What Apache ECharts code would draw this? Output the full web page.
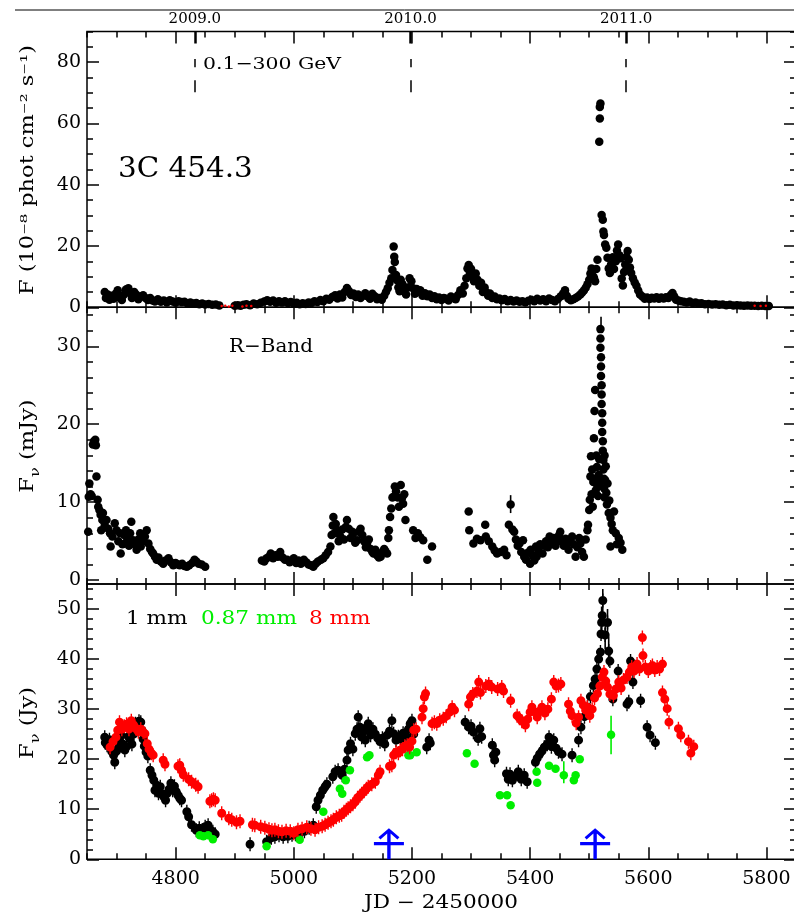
<!DOCTYPE html>
<html>
<head>
<meta charset="utf-8">
<script src="https://cdn.jsdelivr.net/npm/echarts@6/dist/echarts.min.js"></script>
<style>
  html, body { margin: 0; padding: 0; background: #fff; }
  #chart { width: 794px; height: 914px; }
</style>
</head>
<body>
<div id="chart"></div>
<script>
// Fermi-LAT 0.1-300 GeV flux (JD-2450000, 1e-8 ph cm-2 s-1)
const gammaFlux = [
  [4680,5.0],[4682,3.0],[4685,4.2],[4688,2.5],[4692,3.8],[4695,2.8],[4699,4.5],[4702,5.6],[4705,3.2],[4709,2.4],
  [4712,4.0],[4716,5.8],[4720,6.2],[4723,4.6],[4726,3.0],[4730,5.0],[4733,4.2],[4737,2.6],[4741,3.5],[4745,3.9],
  [4749,3.0],[4753,2.4],[4757,3.0],[4761,2.2],[4765,1.9],[4770,2.6],[4775,1.8],[4780,2.2],[4785,1.6],[4790,2.3],
  [4795,1.9],[4800,1.5],[4805,2.0],[4810,1.7],[4815,1.8],[4820,1.3],[4825,1.6],[4830,1.2],[4835,1.4],[4840,1.0],
  [4845,1.2],[4850,0.9],[4856,1.1],[4862,0.8],[4868,0.9],[4874,0.6],[4900,0.5],[4905,0.7],[4910,0.5],[4915,0.8],
  [4920,1.0],[4926,0.7],[4932,1.2],[4938,1.0],[4944,1.5],[4950,1.9],[4955,2.3],[4960,1.8],[4965,2.2],[4970,1.5],
  [4975,2.0],[4980,1.6],[4985,2.0],[4990,1.4],[4995,1.7],[5000,1.2],[5005,1.5],[5010,1.0],[5015,1.3],[5020,1.1],
  [5025,1.6],[5030,1.4],[5035,2.0],[5040,1.7],[5045,2.4],[5050,2.0],[5055,2.8],[5060,2.5],[5065,3.4],[5070,3.9],
  [5074,2.9],[5078,4.2],[5082,3.2],[5086,5.0],[5090,6.3],[5093,5.4],[5097,4.0],[5101,4.5],[5105,3.4],[5109,4.2],
  [5113,3.0],[5117,3.8],[5121,4.6],[5125,3.6],[5129,2.8],[5133,4.4],[5137,3.6],[5141,2.6],[5145,3.0],[5149,2.5],
  [5153,3.8],[5156,5.0],[5159,6.2],[5162,8.0],[5165,9.5],[5167,12.2],[5169,19.8],[5170,16.5],[5171,14.8],[5173,10.5],
  [5175,8.8],[5177,6.5],[5179,5.2],[5181,9.0],[5184,7.5],[5187,5.5],[5190,4.2],[5193,6.5],[5196,9.5],[5199,8.5],
  [5202,6.2],[5205,4.4],[5208,6.0],[5211,5.0],[5214,5.6],[5218,3.8],[5222,4.6],[5226,3.6],[5230,4.2],[5234,3.0],
  [5238,3.6],[5242,2.6],[5246,3.2],[5250,2.4],[5254,3.0],[5258,2.8],[5262,2.2],[5266,3.5],[5270,3.0],[5274,2.6],
  [5278,4.0],[5282,5.6],[5286,4.5],[5289,7.0],[5292,9.5],[5294,12.7],[5296,13.8],[5298,11.2],[5300,12.6],[5302,10.0],
  [5305,8.5],[5308,11.0],[5311,9.0],[5314,7.0],[5317,8.0],[5320,5.0],[5323,6.5],[5326,4.8],[5329,3.8],[5332,4.5],
  [5336,3.0],[5340,3.5],[5344,2.6],[5348,2.9],[5352,2.3],[5357,2.7],[5362,2.0],[5367,2.4],[5372,1.9],[5377,2.2],
  [5382,1.8],[5387,2.0],[5392,1.6],[5397,2.1],[5402,2.5],[5407,2.0],[5412,2.8],[5417,2.2],[5422,2.6],[5427,2.0],
  [5432,2.9],[5437,2.4],[5442,2.0],[5447,2.7],[5452,3.6],[5456,4.5],[5459,5.6],[5462,3.8],[5465,2.8],[5469,2.3],
  [5473,2.6],[5477,3.0],[5481,3.5],[5485,4.2],[5488,4.8],[5491,5.5],[5494,6.4],[5497,7.5],[5500,9.0],[5502,11.0],
  [5504,12.7],[5506,10.2],[5508,9.7],[5510,8.5],[5512,12.5],[5514,15.5],[5517,54.0],[5518,61.6],[5518,65.4],[5519,66.5],
  [5521,30.1],[5523,28.6],[5524,24.7],[5525,23.6],[5527,20.5],[5529,19.4],[5531,16.2],[5533,12.7],[5535,11.2],[5537,14.0],
  [5540,16.3],[5542,12.5],[5545,15.0],[5547,18.5],[5549,20.5],[5551,17.0],[5553,16.0],[5555,9.4],[5557,7.1],[5559,11.5],
  [5561,14.0],[5563,16.5],[5565,18.4],[5567,15.5],[5569,13.0],[5571,11.2],[5574,9.5],[5577,8.1],[5580,7.0],[5583,5.5],
  [5586,4.2],[5590,3.5],[5594,2.8],[5598,3.2],[5602,2.7],[5606,3.1],[5610,2.9],[5614,3.3],[5618,2.8],[5622,3.2],
  [5626,2.9],[5630,3.3],[5634,3.0],[5638,4.0],[5641,4.7],[5644,3.5],[5647,2.5],[5651,2.2],[5655,2.0],[5660,1.8],
  [5665,1.6],[5670,1.9],[5675,1.4],[5680,1.6],[5685,1.2],[5690,1.3],[5696,1.0],[5702,1.1],[5708,0.9],[5714,1.0],
  [5720,0.8],[5726,0.9],[5732,0.7],[5738,0.8],[5744,0.6],[5750,0.7],[5756,0.6],[5762,0.5],[5768,0.6],[5774,0.5],
  [5780,0.5],[5786,0.4],[5792,0.5],[5798,0.4],[5804,0.4]
];
// small red markers near zero in the gamma panel
const gammaRed = [[4878,0.4],[4884,0.5],[4890,0.3],[4896,0.5],[4913,0.3],[4920,0.5],[4928,0.4],[5780,0.5],[5790,0.4],[5799,0.5]];

// R-band flux density (mJy)
const rBand = [
  [4652,6.2],[4653,10.7],[4654,12.4],[4656,11.0],[4658,10.8],[4660,17.4],[4662,17.8],[4664,18.0],[4665,17.3],[4666,13.3],
  [4668,10.3],[4669,9.4],[4671,9.0],[4673,8.4],[4674,6.4],[4676,7.7],[4677,8.6],[4680,7.0],[4683,7.7],[4686,6.6],
  [4689,6.0],[4690,4.3],[4693,5.6],[4697,7.3],[4700,6.4],[4703,5.0],[4706,6.0],[4707,3.4],[4710,4.6],[4713,5.8],
  [4716,6.4],[4718,5.1],[4721,4.4],[4723,6.0],[4725,7.5],[4728,5.1],[4731,4.6],[4734,3.9],[4737,5.2],[4740,6.0],
  [4741,4.3],[4744,5.0],[4748,5.6],[4751,6.4],[4754,4.7],[4757,4.0],[4760,3.6],[4762,3.4],[4765,3.0],[4768,2.6],
  [4771,2.9],[4775,2.4],[4779,2.1],[4783,2.5],[4788,2.8],[4792,2.3],[4796,1.9],[4800,2.2],[4804,2.0],[4807,1.9],
  [4811,2.1],[4815,1.8],[4819,1.7],[4823,1.9],[4828,2.2],[4832,2.6],[4835,2.4],[4839,2.1],[4844,2.0],[4850,1.7],
  [4946,2.5],[4950,2.4],[4954,2.8],[4958,3.0],[4961,3.4],[4965,2.8],[4969,3.2],[4973,3.0],[4977,3.6],[4981,2.9],
  [4985,2.6],[4989,2.6],[4993,2.3],[4997,2.5],[5000,2.8],[5004,2.2],[5008,2.5],[5012,2.1],[5017,2.6],[5021,2.3],
  [5025,2.0],[5029,1.9],[5033,1.7],[5037,2.1],[5041,2.4],[5046,2.6],[5050,2.8],[5054,3.2],[5058,3.6],[5062,4.3],
  [5064,5.8],[5066,7.0],[5067,8.1],[5069,6.0],[5071,7.2],[5073,6.4],[5076,5.0],[5079,5.6],[5082,6.5],[5085,5.2],
  [5088,6.8],[5090,7.7],[5093,6.6],[5096,5.4],[5099,6.2],[5101,6.0],[5104,4.8],[5107,5.1],[5110,6.2],[5113,6.6],
  [5116,5.8],[5119,5.0],[5122,4.2],[5124,4.7],[5127,5.2],[5130,4.0],[5133,3.6],[5135,3.4],[5138,3.9],[5141,3.2],
  [5144,2.9],[5147,3.0],[5150,3.6],[5153,4.0],[5155,3.7],[5158,3.4],[5160,5.4],[5161,6.4],[5163,8.1],[5165,9.2],
  [5167,10.6],[5169,10.7],[5171,12.0],[5173,11.4],[5176,10.6],[5178,9.4],[5181,12.2],[5183,10.5],[5185,9.8],[5187,11.0],
  [5189,7.7],[5202,6.4],[5206,5.4],[5210,6.0],[5214,5.5],[5219,5.1],[5226,2.6],[5234,4.3],
  [5296,8.8],[5297,6.4],[5304,4.7],[5310,5.3],[5316,5.1],[5324,7.1],[5325,5.6],[5330,5.0],[5336,4.3],[5340,3.8],
  [5344,3.4],[5350,3.6],[5356,3.9],[5360,3.2],[5364,7.1],[5367,9.7],[5370,6.5],[5373,6.2],[5376,5.2],[5379,4.4],
  [5382,4.7],[5385,3.6],[5388,5.1],[5390,3.0],[5393,2.6],[5396,3.5],[5400,2.1],[5401,3.9],[5404,3.2],[5407,2.5],
  [5410,4.3],[5411,3.0],[5414,3.8],[5417,4.6],[5421,3.4],[5424,4.4],[5427,5.0],[5430,4.2],[5433,5.6],[5436,4.8],
  [5440,5.4],[5443,4.4],[5446,5.0],[5449,5.8],[5451,6.2],[5454,5.0],[5457,4.4],[5460,5.3],[5462,4.7],[5465,3.9],
  [5468,5.0],[5471,5.6],[5474,4.6],[5477,3.0],[5480,4.2],[5483,5.4],[5485,4.7],[5488,3.6],[5491,3.0],[5494,5.2],
  [5497,6.4],[5498,7.1],[5500,9.0],[5501,10.3],[5502,13.3],[5503,15.9],[5504,11.0],[5505,14.2],[5506,9.4],[5507,12.6],
  [5508,18.2],[5509,21.7],[5509,13.0],[5510,24.4],[5511,11.5],[5512,16.0],[5513,14.5],[5514,12.0],[5515,10.8],[5516,13.5],
  [5517,15.5],[5518,12.5],[5519,32.2],[5519,31.0],[5519,29.8],[5520,28.6],[5520,27.4],[5520,26.2],[5521,25.0],[5521,23.8],
  [5521,22.6],[5522,21.4],[5522,20.2],[5522,19.0],[5523,17.8],[5523,16.6],[5524,15.4],[5524,14.2],[5525,13.0],[5525,11.8],
  [5526,10.6],[5526,16.0],[5527,12.8],[5528,14.6],[5529,11.2],[5530,9.7],[5531,12.4],[5533,8.6],[5534,10.2],[5536,8.0],
  [5536,4.3],[5538,7.2],[5540,6.4],[5542,8.8],[5545,6.0],[5547,4.6],[5550,5.4],[5553,4.8],[5556,3.9]
];
const rBandErr = [[5367,8.6,10.9],[5520,32.2,33.8]];

// 1 mm flux density (Jy)
const mm1 = [
  [4680,24.4],[4681,23.3],[4684,22.8],[4688,23.9],[4692,21.5],[4695,20.8],[4697,19.4],[4700,21.6],[4703,22.2],[4706,23.5],
  [4708,24.8],[4711,23.0],[4714,21.8],[4717,22.5],[4720,24.5],[4723,24.0],[4726,23.0],[4729,25.0],[4732,27.1],[4735,26.2],
  [4738,27.6],[4741,27.4],[4743,25.8],[4745,24.0],[4747,22.6],[4750,21.4],[4753,20.6],[4757,17.8],[4760,16.8],[4763,15.8],
  [4765,13.8],[4768,14.8],[4771,13.2],[4774,14.5],[4777,13.0],[4780,12.5],[4783,11.8],[4786,13.2],[4789,14.0],[4792,15.2],
  [4795,13.8],[4798,14.6],[4801,13.5],[4804,12.8],[4807,12.2],[4810,11.8],[4819,9.5],[4822,8.5],[4827,6.9],[4835,5.8],
  [4840,6.2],[4845,5.8],[4850,6.5],[4855,6.8],[4859,5.8],[4863,5.5],[4867,5.0],[4926,3.0],[4954,3.5],[4962,4.3],
  [4968,4.5],[4975,4.8],[4982,4.5],[4990,4.6],[4997,4.9],[5003,5.0],[5010,5.2],[5018,5.6],[5026,6.3],[5033,6.8],
  [5038,10.5],[5041,11.8],[5045,12.8],[5049,13.8],[5053,14.5],[5056,15.0],[5066,16.5],[5070,17.5],[5075,17.8],[5082,16.8],
  [5086,18.0],[5090,19.8],[5092,21.8],[5096,23.1],[5100,22.0],[5104,25.1],[5107,26.0],[5109,28.4],[5112,26.4],[5115,24.4],
  [5118,25.6],[5121,23.8],[5124,26.2],[5126,27.1],[5130,24.8],[5134,26.0],[5138,25.0],[5142,24.2],[5146,23.5],[5150,24.2],
  [5154,23.0],[5158,24.8],[5162,25.6],[5166,27.7],[5169,25.1],[5173,23.8],[5177,24.5],[5181,24.0],[5185,25.2],[5190,24.6],
  [5194,26.0],[5197,27.1],[5200,27.7],[5203,25.0],[5225,22.4],[5229,23.8],[5231,23.2],[5290,27.4],[5296,26.4],[5300,26.6],
  [5304,25.4],[5312,24.1],[5315,26.1],[5318,24.5],[5336,22.8],[5338,20.8],[5340,19.8],[5342,21.4],[5360,17.1],[5363,16.0],
  [5366,17.0],[5370,15.8],[5375,16.6],[5380,17.5],[5385,16.0],[5390,16.8],[5395,15.5],[5409,19.4],[5412,20.2],[5416,21.0],
  [5420,21.6],[5424,22.4],[5429,23.0],[5432,24.4],[5436,22.5],[5440,23.8],[5444,22.2],[5448,21.5],[5454,21.0],[5471,20.8],
  [5482,23.8],[5486,26.4],[5492,28.5],[5497,30.4],[5502,32.5],[5507,34.7],[5510,36.0],[5513,38.0],[5516,40.0],[5519,41.4],
  [5520,45.0],[5521,47.3],[5522,48.7],[5523,51.7],[5527,44.8],[5531,47.3],[5533,41.6],[5535,39.6],[5540,32.0],[5549,37.6],
  [5564,31.0],[5567,31.5],[5570,39.6],[5574,35.4],[5587,31.7],[5598,26.4],[5603,24.8],[5612,23.3]
];
const mm1Err = [[5523,49.5,54.0],[5527,42.0,47.5],[5531,44.5,50.0],[5533,38.5,44.5],[5521,44.0,50.5]];

// 0.87 mm flux density (Jy)
const mm087 = [
  [4841,4.8],[4847,4.6],[4855,4.8],[4863,4.0],[4954,2.6],[5010,3.9],[5050,9.5],[5078,14.1],[5082,13.1],[5088,15.8],
  [5095,17.8],[5124,20.4],[5128,20.8],[5194,20.8],[5197,20.8],[5208,21.4],[5293,21.2],[5306,19.1],[5349,12.8],[5361,12.8],
  [5367,10.8],[5411,17.5],[5412,15.3],[5432,18.7],[5443,18.1],[5457,16.8],[5474,15.8],[5477,16.8],[5484,20.0],[5537,24.9]
];
const mm087Err = [[5457,15.2,19.6],[5537,21.0,28.7]];

// 8 mm flux density (Jy)
const mm8 = [
  [4689,22.4],[4694,23.5],[4699,24.4],[4702,25.8],[4705,27.4],[4709,26.0],[4713,26.6],[4717,27.0],[4721,26.0],[4725,27.7],
  [4729,26.8],[4733,26.1],[4737,25.5],[4741,26.0],[4745,25.4],[4748,25.1],[4752,23.1],[4755,22.0],[4759,21.2],[4762,20.8],
  [4779,19.8],[4782,19.0],[4804,18.6],[4807,18.8],[4810,17.8],[4813,16.9],[4822,16.0],[4827,15.5],[4834,14.9],[4838,14.5],
  [4858,11.6],[4861,11.8],[4864,12.0],[4867,11.8],[4878,9.2],[4890,8.2],[4895,7.9],[4903,7.4],[4909,7.6],[4930,6.9],
  [4934,6.8],[4944,6.5],[4951,6.3],[4958,6.0],[4963,5.8],[4968,5.9],[4974,5.6],[4980,5.5],[4987,5.7],[4994,5.6],
  [5000,5.2],[5007,5.9],[5014,6.1],[5022,6.4],[5029,6.1],[5036,5.9],[5042,6.4],[5048,6.6],[5053,6.9],[5058,7.3],
  [5063,7.6],[5067,7.9],[5072,8.4],[5077,8.7],[5081,8.9],[5085,9.5],[5089,9.9],[5092,10.2],[5096,10.6],[5100,11.0],
  [5104,11.5],[5108,12.3],[5112,12.7],[5115,13.1],[5119,13.6],[5123,14.1],[5126,14.5],[5132,15.0],[5138,15.5],[5143,16.8],
  [5146,17.5],[5162,18.6],[5166,18.8],[5169,20.8],[5173,21.4],[5177,21.2],[5180,21.8],[5184,22.0],[5188,22.6],[5192,22.8],
  [5196,22.4],[5200,23.6],[5203,25.8],[5207,26.0],[5217,28.4],[5219,30.1],[5221,32.4],[5223,33.1],[5234,27.1],[5238,27.4],
  [5242,27.1],[5247,27.8],[5253,28.1],[5258,28.6],[5264,29.4],[5268,30.4],[5272,29.8],[5296,31.0],[5299,32.4],[5303,33.0],
  [5310,33.6],[5313,35.4],[5316,33.3],[5325,34.6],[5330,35.0],[5335,34.4],[5345,34.0],[5352,34.4],[5355,33.6],[5367,31.7],
  [5378,28.7],[5382,28.2],[5386,27.6],[5392,26.8],[5396,28.0],[5400,29.4],[5403,30.4],[5408,29.4],[5412,28.4],[5416,29.6],
  [5420,30.4],[5425,29.2],[5430,30.0],[5436,32.0],[5440,35.4],[5444,34.6],[5448,34.7],[5452,35.0],[5465,31.0],[5468,29.6],
  [5471,28.7],[5478,27.2],[5482,28.4],[5486,31.7],[5490,30.8],[5494,29.8],[5497,30.4],[5501,28.7],[5505,30.0],[5509,32.2],
  [5514,33.1],[5518,34.6],[5522,36.4],[5525,37.4],[5528,35.6],[5531,34.4],[5535,33.0],[5541,32.7],[5545,34.0],[5550,35.4],
  [5554,34.2],[5558,35.8],[5564,36.4],[5568,37.4],[5572,38.4],[5576,37.6],[5581,39.0],[5585,38.0],[5590,44.3],[5591,40.7],
  [5595,38.4],[5600,37.6],[5604,38.4],[5607,38.7],[5611,37.8],[5615,38.4],[5619,38.0],[5624,39.0],[5624,33.3],[5628,32.0],
  [5632,30.1],[5635,27.4],[5651,26.1],[5655,24.8],[5668,23.5],[5672,21.2],[5677,22.5]
];

// blue arrows in the mm panel
const arrowJD = [5161, 5510];
const arrowY = [3.1, 3.1];

// axes
const jdTicks = [4800, 5000, 5200, 5400, 5600, 5800];
const yearJD = [4832.5, 5197.5, 5562.5];
const yearLabels = ['2009.0', '2010.0', '2011.0'];
const gammaTicks = [0, 20, 40, 60, 80];
const rTicks = [0, 10, 20, 30];
const mmTicks = [0, 10, 20, 30, 40, 50];

const X_MIN = 4650, X_MAX = 5850;
const FONT = 'DejaVu Serif';
const GREEN = '#00ee00';

function steps(from, to, step) {
  const out = [];
  for (let v = from; v <= to + 1e-9; v += step) out.push(v);
  return out;
}
const jdMinor = steps(4650, 5850, 50);

const grids = [
  { top: 31.5, height: 275.8 },
  { top: 307.3, height: 276.7 },
  { top: 584, height: 275.3 }
];
const yRanges = [
  { min: 0, max: 90, major: gammaTicks, minor: steps(0, 90, 5) },
  { min: -0.5, max: 35, major: rTicks, minor: steps(0, 34, 2) },
  { min: 0, max: 55, major: mmTicks, minor: steps(0, 54, 2) }
];

function tickAxis(grid, position, min, max, ticks, len, label) {
  return {
    gridIndex: grid, type: 'value', position, min, max,
    axisLine: { show: false, onZero: false },
    splitLine: { show: false },
    axisTick: { show: true, inside: true, length: len, customValues: ticks, lineStyle: { color: '#000', width: 1.5 } },
    axisLabel: label
      ? Object.assign({ customValues: ticks, color: '#000', fontFamily: FONT, fontSize: 19, formatter: v => String(v) }, label)
      : { show: false }
  };
}

const xAxes = [], yAxes = [];
grids.forEach((g, i) => {
  xAxes.push(tickAxis(i, 'bottom', X_MIN, X_MAX, jdTicks, 12, i === 2 ? { margin: 10 } : null));
  xAxes.push(tickAxis(i, 'bottom', X_MIN, X_MAX, jdMinor, 6, null));
  xAxes.push(tickAxis(i, 'top', X_MIN, X_MAX, jdTicks, 12, null));
  xAxes.push(tickAxis(i, 'top', X_MIN, X_MAX, jdMinor, 6, null));
  const r = yRanges[i];
  yAxes.push(tickAxis(i, 'left', r.min, r.max, r.major, 12, { margin: 6 }));
  yAxes.push(tickAxis(i, 'left', r.min, r.max, r.minor, 6, null));
  yAxes.push(tickAxis(i, 'right', r.min, r.max, r.major, 12, null));
  yAxes.push(tickAxis(i, 'right', r.min, r.max, r.minor, 6, null));
});
// calendar years on top of the gamma panel
const yearAxis = tickAxis(0, 'top', X_MIN, X_MAX, yearJD, 12, {
  margin: 5, fontSize: 15,
  formatter: v => yearLabels[yearJD.indexOf(v)] || ''
});
yearAxis.axisTick.lineStyle.width = 2.5;
xAxes.push(yearAxis);

const ERR_SYM = 'path://M0,7 A4.5,4.5 0 1,1 9,7 A4.5,4.5 0 1,1 0,7 Z M3.8,0 L5.2,0 L5.2,2.7 L3.8,2.7 Z M3.8,11.3 L5.2,11.3 L5.2,14 L3.8,14 Z';
const ARROW_SYM = 'path://M15,0 L25.5,9 L23.5,11.2 L15,3.8 L6.5,11.2 L4.5,9 Z M13.3,2 L16.7,2 L16.7,31 L13.3,31 Z M0,13.8 L30,13.8 L30,17 L0,17 Z';

function dots(grid, data, color, extra) {
  return Object.assign({
    type: 'scatter', xAxisIndex: grid * 4, yAxisIndex: grid * 4, data,
    symbol: 'circle', symbolSize: 8.5, silent: true,
    itemStyle: { color, opacity: 1 }
  }, extra || {});
}

function errBars(grid, data, color) {
  return {
    type: 'custom', xAxisIndex: grid * 4, yAxisIndex: grid * 4, data, silent: true,
    renderItem(params, api) {
      const a = api.coord([api.value(0), api.value(1)]);
      const b = api.coord([api.value(0), api.value(2)]);
      return { type: 'line', shape: { x1: a[0], y1: a[1], x2: b[0], y2: b[1] }, style: { stroke: color, lineWidth: 1.6 } };
    }
  };
}

function label(text, x, y, size, opts, fill, align) {
  return Object.assign({
    type: 'text', x, y, silent: true,
    style: {
      text, fill: fill || '#000', fontFamily: FONT, fontSize: size,
      textAlign: align || 'left', align: align || 'left',
      textVerticalAlign: 'middle', verticalAlign: 'middle'
    }
  }, opts || {});
}
function yTitle(text, y) {
  return {
    type: 'text', x: 28, y, rotation: Math.PI / 2, scaleX: 1.25, silent: true,
    style: {
      text, fill: '#000', fontFamily: FONT, fontSize: 18,
      textAlign: 'center', textVerticalAlign: 'middle', align: 'center', verticalAlign: 'middle',
      rich: {
        f: { fontFamily: FONT, fontSize: 18, lineHeight: 28, verticalAlign: 'middle' },
        n: { fontFamily: FONT, fontSize: 13, lineHeight: 28, verticalAlign: 'bottom' }
      }
    }
  };
}

const chart = echarts.init(document.getElementById('chart'), null, { renderer: 'canvas' });
chart.setOption({
  backgroundColor: '#fff',
  animation: false,
  grid: grids.map(g => ({
    left: 87, width: 709, top: g.top, height: g.height,
    show: true, borderColor: '#000', borderWidth: 1.5, backgroundColor: 'transparent',
    containLabel: false, outerBoundsMode: 'none'
  })),
  xAxis: xAxes,
  yAxis: yAxes,
  series: [
    dots(0, gammaFlux, '#000', {
      markLine: {
        silent: true, symbol: 'none', label: { show: false },
        lineStyle: { color: '#000', width: 1.5, type: [12, 13] },
        data: yearJD.map(v => [{ coord: [v, 70.2] }, { coord: [v, 81] }])
      }
    }),
    dots(0, gammaRed, '#ff0000', { symbolSize: 2.5 }),
    errBars(1, rBandErr, '#000'),
    dots(1, rBand, '#000'),
    errBars(2, mm1Err, '#000'),
    dots(2, mm1, '#000', { symbol: ERR_SYM, symbolSize: [9, 14] }),
    errBars(2, mm087Err, GREEN),
    dots(2, mm087, GREEN),
    dots(2, mm8, '#ff0000', { symbol: ERR_SYM, symbolSize: [9, 14] }),
    dots(2, arrowJD.map((x, i) => [x, arrowY[i]]), '#0000ff', { symbol: ARROW_SYM, symbolSize: [30, 31], z: 5 })
  ],
  graphic: [
    { type: 'line', silent: true, shape: { x1: 15, y1: 10, x2: 794, y2: 10 }, style: { stroke: '#000', lineWidth: 1 } },
    label('0.1\u2212300 GeV', 203, 64.5, 17, { scaleX: 1.2 }),
    label('3C 454.3', 118, 170, 28, { scaleX: 1.05 }),
    label('R\u2212Band', 229, 347, 19, { scaleX: 1.05 }),
    label('1 mm', 126, 619.5, 18, { scaleX: 1.2 }),
    label('0.87 mm', 201, 619.5, 18, { scaleX: 1.2 }, GREEN),
    label('8 mm', 309, 619.5, 18, { scaleX: 1.2 }, '#ff0000'),
    yTitle('F (10\u207B\u2078 phot cm\u207B\u00B2 s\u207B\u00B9)', 170),
    yTitle('{f|F}{n|\u03BD}{f| (mJy)}', 446),
    yTitle('{f|F}{n|\u03BD}{f| (Jy)}', 723),
    label('JD \u2212 2450000', 441, 903, 18, { scaleX: 1.2 }, '#000', 'center')
  ]
});
</script>
</body>
</html>
